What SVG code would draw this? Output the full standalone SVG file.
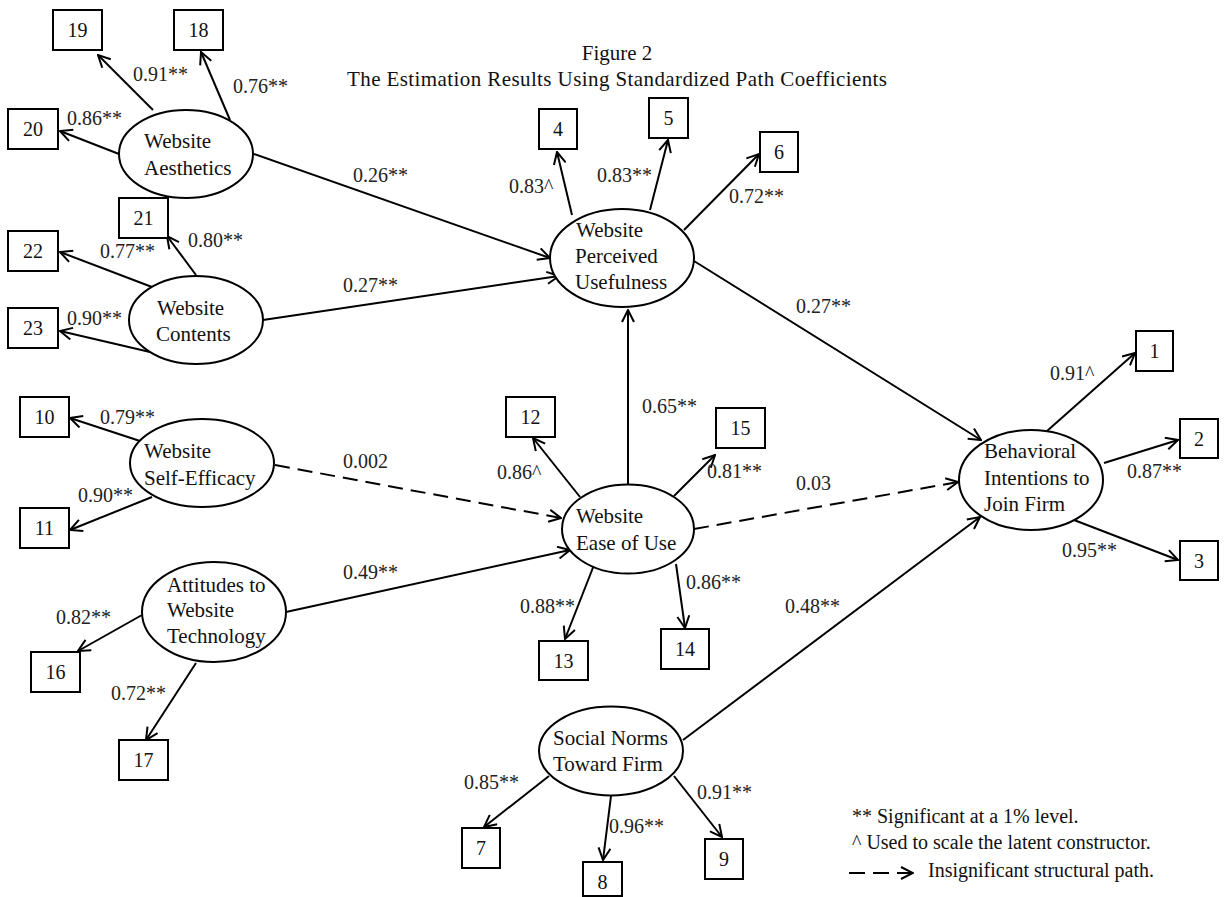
<svg xmlns="http://www.w3.org/2000/svg" width="1224" height="897" viewBox="0 0 1224 897">
<defs>
<marker id="arr" viewBox="0 0 14 14" refX="13" refY="7" markerWidth="14" markerHeight="14" markerUnits="userSpaceOnUse" orient="auto">
<path d="M1,1 L13,7 L1,13" fill="none" stroke="#000" stroke-width="2"/>
</marker>
<style>
text{font-family:"Liberation Serif","Times New Roman",serif;fill:#111}
.lbl{font-size:21px}
.num{font-size:20px;fill:#222}
.box{fill:#fff;stroke:#000;stroke-width:2}
.ell{fill:#fff;stroke:#000;stroke-width:2}
.bt{font-size:20px;text-anchor:middle}
.c line{stroke:#000;stroke-width:2;marker-end:url(#arr)}
.c line.d{stroke-dasharray:15 8}
</style>
</defs>
<rect width="1224" height="897" fill="#fff"/>

<g id="title">
<text x="617" y="60" style="font-size:21px" text-anchor="middle">Figure 2</text>
<text x="347" y="86" style="font-size:21px" textLength="540" lengthAdjust="spacing">The Estimation Results Using Standardized Path Coefficients</text>
</g>

<g class="c" id="connectors">
<!-- Aesthetics -->
<line x1="153" y1="110" x2="98" y2="55"/>
<line x1="230" y1="120" x2="201" y2="52"/>
<line x1="119" y1="154" x2="60" y2="131"/>
<line x1="254" y1="154" x2="550" y2="258"/>
<!-- Contents -->
<line x1="196" y1="275" x2="167" y2="236"/>
<line x1="152" y1="287" x2="60" y2="252"/>
<line x1="150" y1="352" x2="60" y2="331"/>
<line x1="263" y1="320" x2="559" y2="276"/>
<!-- Self-Efficacy -->
<line x1="140" y1="441" x2="70" y2="418"/>
<line x1="152" y1="497" x2="70" y2="530"/>
<line class="d" x1="275" y1="465" x2="561" y2="518"/>
<!-- Attitudes -->
<line x1="142" y1="615" x2="78" y2="651"/>
<line x1="196" y1="663" x2="146" y2="740"/>
<line x1="286" y1="612" x2="570" y2="550"/>
<!-- Perceived Usefulness -->
<line x1="572" y1="215" x2="557" y2="152"/>
<line x1="650" y1="210" x2="668" y2="140"/>
<line x1="684" y1="230" x2="759" y2="154"/>
<line x1="694" y1="261" x2="981" y2="440"/>
<!-- Ease of Use -->
<line x1="628" y1="485" x2="628" y2="310"/>
<line x1="580" y1="497" x2="533" y2="438"/>
<line x1="674" y1="496" x2="715" y2="455"/>
<line x1="594" y1="565" x2="565" y2="639"/>
<line x1="676" y1="564" x2="685" y2="628"/>
<line class="d" x1="694" y1="529" x2="958" y2="482"/>
<!-- Social Norms -->
<line x1="683" y1="740" x2="980" y2="517"/>
<line x1="549" y1="776" x2="484" y2="827"/>
<line x1="611" y1="796" x2="603" y2="860"/>
<line x1="674" y1="776" x2="722" y2="837"/>
<!-- Behavioral -->
<line x1="1047" y1="431" x2="1135" y2="353"/>
<line x1="1104" y1="463" x2="1178" y2="440"/>
<line x1="1074" y1="520" x2="1178" y2="560"/>
</g>

<g id="n-aesthetics">
<ellipse class="ell" cx="186" cy="154" rx="67" ry="44"/>
<text class="lbl" x="144" y="148">Website</text>
<text class="lbl" x="144" y="175">Aesthetics</text>
</g>
<g id="n-contents">
<ellipse class="ell" cx="196" cy="320" rx="67" ry="44"/>
<text class="lbl" x="157" y="315">Website</text>
<text class="lbl" x="156" y="341">Contents</text>
</g>
<g id="n-selfefficacy">
<ellipse class="ell" cx="202" cy="463" rx="72" ry="44"/>
<text class="lbl" x="144" y="458">Website</text>
<text class="lbl" x="144" y="485">Self-Efficacy</text>
</g>
<g id="n-attitudes">
<ellipse class="ell" cx="214" cy="612" rx="72" ry="50"/>
<text class="lbl" x="167" y="592">Attitudes to</text>
<text class="lbl" x="167" y="617">Website</text>
<text class="lbl" x="167" y="643">Technology</text>
</g>
<g id="n-usefulness">
<ellipse class="ell" cx="622" cy="258" rx="72" ry="49"/>
<text class="lbl" x="576" y="237">Website</text>
<text class="lbl" x="575" y="263">Perceived</text>
<text class="lbl" x="575" y="289">Usefulness</text>
</g>
<g id="n-easeofuse">
<ellipse class="ell" cx="628" cy="529" rx="66" ry="44.5"/>
<text class="lbl" x="576" y="523">Website</text>
<text class="lbl" x="576" y="550">Ease of Use</text>
</g>
<g id="n-behavioral">
<ellipse class="ell" cx="1031" cy="480" rx="72" ry="50"/>
<text class="lbl" x="984" y="458">Behavioral</text>
<text class="lbl" x="984" y="485">Intentions  to</text>
<text class="lbl" x="984" y="511">Join Firm</text>
</g>
<g id="n-socialnorms">
<ellipse class="ell" cx="611" cy="751" rx="72" ry="44.5"/>
<text class="lbl" x="553" y="745">Social Norms</text>
<text class="lbl" x="553" y="771">Toward Firm</text>
</g>

<g id="b19"><rect class="box" x="53" y="10" width="49" height="40"/><text class="bt" x="77.5" y="37">19</text></g>
<g id="b18"><rect class="box" x="174" y="10" width="49" height="40"/><text class="bt" x="198.5" y="37">18</text></g>
<g id="b20"><rect class="box" x="8" y="109" width="50" height="40"/><text class="bt" x="33" y="136">20</text></g>
<g id="b21"><rect class="box" x="119" y="198" width="49" height="40"/><text class="bt" x="143.5" y="225">21</text></g>
<g id="b22"><rect class="box" x="8" y="231" width="50" height="40"/><text class="bt" x="33" y="258">22</text></g>
<g id="b23"><rect class="box" x="8" y="308" width="50" height="40"/><text class="bt" x="33" y="335">23</text></g>
<g id="b10"><rect class="box" x="20" y="397" width="49" height="40"/><text class="bt" x="44.5" y="424">10</text></g>
<g id="b11"><rect class="box" x="20" y="508" width="49" height="40"/><text class="bt" x="44.5" y="535">11</text></g>
<g id="b16"><rect class="box" x="31" y="652" width="49" height="40"/><text class="bt" x="55.5" y="679">16</text></g>
<g id="b17"><rect class="box" x="119" y="740" width="49" height="40"/><text class="bt" x="143.5" y="767">17</text></g>
<g id="b4"><rect class="box" x="539" y="109" width="38" height="40"/><text class="bt" x="558" y="136">4</text></g>
<g id="b5"><rect class="box" x="649" y="98" width="39" height="40"/><text class="bt" x="668.5" y="125">5</text></g>
<g id="b6"><rect class="box" x="760" y="132" width="38" height="40"/><text class="bt" x="779" y="159">6</text></g>
<g id="b12"><rect class="box" x="506" y="397" width="49" height="40"/><text class="bt" x="530.5" y="424">12</text></g>
<g id="b15"><rect class="box" x="716" y="408" width="49" height="40"/><text class="bt" x="740.5" y="435">15</text></g>
<g id="b13"><rect class="box" x="539" y="641" width="49" height="39"/><text class="bt" x="563.5" y="668">13</text></g>
<g id="b14"><rect class="box" x="661" y="629" width="48" height="40"/><text class="bt" x="685" y="656">14</text></g>
<g id="b1"><rect class="box" x="1136" y="331" width="37" height="40"/><text class="bt" x="1154.5" y="358">1</text></g>
<g id="b2"><rect class="box" x="1180" y="419" width="38" height="39"/><text class="bt" x="1199" y="446">2</text></g>
<g id="b3"><rect class="box" x="1180" y="541" width="38" height="39"/><text class="bt" x="1199" y="568">3</text></g>
<g id="b7"><rect class="box" x="462" y="828" width="38" height="40"/><text class="bt" x="481" y="855">7</text></g>
<g id="b8"><rect class="box" x="583" y="862" width="39" height="34"/><text class="bt" x="602.5" y="889">8</text></g>
<g id="b9"><rect class="box" x="705" y="839" width="38" height="40"/><text class="bt" x="724" y="866">9</text></g>

<g id="coefficients">
<text class="num" x="133" y="81">0.91**</text>
<text class="num" x="233" y="93">0.76**</text>
<text class="num" x="67" y="125">0.86**</text>
<text class="num" x="353" y="182">0.26**</text>
<text class="num" x="100" y="258">0.77**</text>
<text class="num" x="188" y="247">0.80**</text>
<text class="num" x="67" y="325">0.90**</text>
<text class="num" x="343" y="292">0.27**</text>
<text class="num" x="509" y="193">0.83^</text>
<text class="num" x="597" y="182">0.83**</text>
<text class="num" x="729" y="203">0.72**</text>
<text class="num" x="796" y="313">0.27**</text>
<text class="num" x="100" y="424">0.79**</text>
<text class="num" x="78" y="502">0.90**</text>
<text class="num" x="343" y="468">0.002</text>
<text class="num" x="343" y="579">0.49**</text>
<text class="num" x="56" y="624">0.82**</text>
<text class="num" x="111" y="700">0.72**</text>
<text class="num" x="642" y="413">0.65**</text>
<text class="num" x="497" y="479">0.86^</text>
<text class="num" x="707" y="478">0.81**</text>
<text class="num" x="796" y="490">0.03</text>
<text class="num" x="520" y="613">0.88**</text>
<text class="num" x="686" y="589">0.86**</text>
<text class="num" x="785" y="613">0.48**</text>
<text class="num" x="1050" y="380">0.91^</text>
<text class="num" x="1127" y="478">0.87**</text>
<text class="num" x="1062" y="557">0.95**</text>
<text class="num" x="464" y="789">0.85**</text>
<text class="num" x="609" y="833">0.96**</text>
<text class="num" x="697" y="799">0.91**</text>
</g>

<g id="legend">
<text class="num" x="852" y="823" style="fill:#111">** Significant at a 1% level.</text>
<text class="num" x="852" y="849" style="fill:#111">^ Used to scale the latent constructor.</text>
<g class="c"><line class="d" x1="849" y1="873" x2="913" y2="873" style="stroke-dasharray:16 8"/></g>
<text class="num" x="928" y="877" style="fill:#111">Insignificant structural path.</text>
</g>
</svg>
